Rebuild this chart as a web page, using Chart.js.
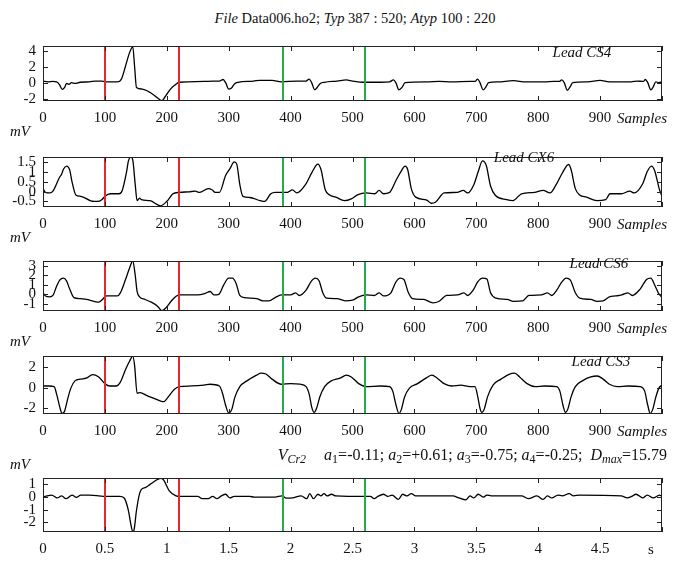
<!DOCTYPE html>
<html>
<head>
<meta charset="utf-8">
<script src="https://cdn.jsdelivr.net/npm/chart.js@4.4.1/dist/chart.umd.min.js"></script>
<style>
    body { margin: 0; background: #fff; }
    #wrap { position: relative; width: 673px; height: 561px; overflow: hidden; font-family: 'Liberation Serif', 'Times New Roman', serif; color: #111; }
    #wrap canvas { position: absolute; left: 0; }
    .txt { position: absolute; white-space: nowrap; font-size: 15px; line-height: 16px; transform: translate(-50%, -50%); }
    .txt.right { transform: translate(-100%, -50%); }
    .txt sub { font-size: 11px; line-height: 0; vertical-align: -3px; }
    .title { font-size: 14.5px; }
    .params { font-size: 16px; }
    .params sub { font-size: 12px; }
    .gap { display: inline-block; width: 18px; }
</style>
</head>
<body>
<div id="wrap">
    <canvas id="pCS4"></canvas>
    <canvas id="pCX6"></canvas>
    <canvas id="pCS6"></canvas>
    <canvas id="pCS3"></canvas>
    <canvas id="pVCr2"></canvas>

    <div class="txt title" style="left:355px; top:18px;"><i>File</i> Data006.ho2; <i>Typ</i> 387 : 520; <i>Atyp</i> 100 : 220</div>

    <div class="txt" style="left:582px; top:52px;"><i>Lead CS4</i></div>
    <div class="txt" style="left:524px; top:157px;"><i>Lead CX6</i></div>
    <div class="txt" style="left:599px; top:263px;"><i>Lead CS6</i></div>
    <div class="txt" style="left:601px; top:361px;"><i>Lead CS3</i></div>

    <div class="txt" style="left:20px; top:131px;"><i>mV</i></div>
    <div class="txt" style="left:20px; top:237px;"><i>mV</i></div>
    <div class="txt" style="left:20px; top:341px;"><i>mV</i></div>
    <div class="txt" style="left:20px; top:464px;"><i>mV</i></div>

    <div class="txt right" style="left:667px; top:118px;"><i>Samples</i></div>
    <div class="txt right" style="left:667px; top:224px;"><i>Samples</i></div>
    <div class="txt right" style="left:667px; top:328px;"><i>Samples</i></div>
    <div class="txt right" style="left:667px; top:431px;"><i>Samples</i></div>
    <div class="txt" style="left:651px; top:549px;">s</div>

    <div class="txt right params" style="left:667px; top:455px;"><i>V</i><sub><i>Cr2</i></sub><span class="gap"></span><i>a</i><sub>1</sub>=-0.11; <i>a</i><sub>2</sub>=+0.61; <i>a</i><sub>3</sub>=-0.75; <i>a</i><sub>4</sub>=-0.25;&nbsp; <i>D</i><sub><i>max</i></sub>=15.79</div>
</div>

<script>
// ---- data (sample index -> mV) ----

const sampleTicks = [0, 100, 200, 300, 400, 500, 600, 700, 800, 900, 1000];
const samplesPerSecond = 200;
const atypBounds = [100, 220];
const typBounds = [387, 520];

// Lead CS4
const cs4Samples = [0, 8, 16, 22, 27, 31, 35, 38, 42, 46,
    52, 60, 75, 85, 95, 100, 120, 127, 133, 140,
    145, 148, 151, 160, 170, 180, 188, 192, 197, 205,
    213, 220, 235, 260, 275, 285, 291, 295, 300, 304,
    310, 315, 340, 350, 370, 385, 410, 425, 430, 434,
    439, 443, 448, 455, 475, 490, 500, 520, 545, 560,
    566, 570, 575, 580, 585, 620, 640, 660, 690, 698,
    702, 706, 711, 715, 720, 735, 760, 780, 810, 825,
    834, 838, 842, 847, 851, 856, 880, 900, 915, 950,
    960, 970, 973, 977, 982, 986, 990, 995, 1000];
const cs4Values = [0.2, 0.1, 0.15, 0.1, -0.3, -0.85, -0.6, -0.1, -0.2, 0.0,
    -0.1, 0.05, 0.1, 0.2, 0.2, 0.1, 0.1, 0.5, 2.0, 3.8,
    4.5, 2.0, -0.6, -0.8, -1.1, -1.6, -2.1, -2.25, -1.8, -0.9,
    -0.3, 0.05, 0.1, 0.15, 0.2, 0.2, 0.4, 0.0, -0.8, -0.7,
    -0.1, 0.05, 0.2, 0.3, 0.3, 0.1, 0.2, 0.2, 0.45, 0.0,
    -0.9, -0.6, -0.1, 0.05, 0.2, 0.35, 0.2, 0.05, 0.05, 0.1,
    0.35, 0.0, -0.9, -0.6, 0.0, 0.1, 0.15, 0.1, 0.15, 0.15,
    0.45, 0.0, -0.9, -0.6, 0.0, 0.1, 0.25, 0.1, 0.1, 0.15,
    0.15, 0.35, 0.0, -0.95, -0.6, 0.0, 0.1, 0.3, 0.1, 0.1,
    0.2, 0.15, 0.4, 0.0, -0.9, -0.5, 0.1, 0.0, 0.1];
const cs4Ticks = [-2, 0, 2, 4];

// Lead CX6
const cx6Samples = [0, 4, 11, 16, 27, 30, 33, 38, 43, 47,
    53, 61, 82, 88, 95, 100, 109, 123, 128, 135,
    138, 142, 145, 149, 152, 156, 159, 173, 190, 201,
    210, 220, 236, 246, 253, 267, 273, 278, 285, 295,
    302, 309, 313, 318, 323, 334, 351, 358, 368, 375,
    395, 403, 410, 424, 435, 444, 449, 456, 463, 473,
    487, 498, 508, 522, 536, 543, 550, 560, 571, 578,
    585, 589, 595, 602, 620, 627, 634, 648, 669, 679,
    686, 696, 703, 710, 716, 723, 731, 749, 759, 773,
    794, 808, 819, 829, 839, 849, 853, 860, 867, 878,
    895, 909, 916, 934, 948, 955, 969, 976, 983, 988,
    996, 1000];
const cx6Values = [0.15, -0.04, -0.07, 0.02, 0.74, 0.87, 1.13, 1.29, 1.11, 0.48,
    -0.17, -0.24, -0.5, -0.5, -0.41, -0.24, -0.11, -0.11, 0.06, 1.0,
    1.55, 1.74, 1.6, 0.35, -0.46, -0.33, -0.41, -0.46, -0.72, -0.46,
    -0.11, -0.04, -0.01, 0.02, -0.04, 0.15, 0.09, -0.04, -0.04, 0.81,
    1.16, 1.5, 1.39, 0.35, -0.24, -0.3, -0.46, -0.5, -0.11, -0.04,
    -0.04, 0.09, -0.07, 0.35, 1.0, 1.39, 1.13, 0.09, -0.17, -0.28,
    -0.46, -0.37, -0.17, -0.07, -0.11, 0.06, -0.11, -0.04, 0.61, 1.0,
    1.29, 1.13, 0.15, -0.28, -0.43, -0.59, -0.54, -0.07, -0.04, 0.06,
    -0.07, 0.35, 1.0, 1.55, 1.33, 0.28, -0.2, -0.41, -0.46, -0.11,
    -0.04, 0.06, -0.07, 0.35, 0.94, 1.37, 1.13, 0.15, -0.17, -0.28,
    -0.46, -0.41, -0.11, -0.11, 0.02, -0.07, 0.41, 1.0, 1.29, 1.07,
    0.09, -0.24];
const cx6Ticks = [-0.5, 0, 0.5, 1, 1.5];

// Lead CS6
const cs6Samples = [0, 4, 11, 16, 22, 27, 33, 38, 43, 50,
    60, 70, 82, 90, 96, 100, 103, 120, 125, 133,
    140, 145, 149, 152, 156, 165, 175, 185, 192, 198,
    207, 215, 222, 250, 262, 270, 276, 284, 292, 300,
    306, 312, 318, 325, 345, 355, 365, 375, 385, 400,
    408, 414, 425, 433, 440, 446, 452, 458, 475, 488,
    500, 510, 522, 535, 543, 550, 562, 570, 577, 583,
    590, 597, 615, 630, 640, 652, 670, 680, 686, 695,
    702, 710, 717, 723, 732, 750, 760, 775, 785, 805,
    815, 822, 830, 838, 845, 852, 860, 867, 885, 895,
    905, 915, 925, 935, 945, 952, 965, 975, 982, 988,
    994, 1000];
const cs6Values = [0.16, -0.17, -0.26, -0.12, 0.86, 1.5, 1.7, 1.42, 0.58, -0.34,
    -0.45, -0.54, -0.73, -0.82, -0.54, -0.26, -0.17, -0.17, 0.16, 1.5,
    2.8, 3.5, 2.0, 0.3, -0.26, -0.54, -0.82, -1.24, -1.72, -1.46,
    -0.73, -0.2, -0.06, -0.06, 0.1, 0.3, -0.06, 0.0, 1.0, 1.7,
    1.7, 1.14, -0.12, -0.34, -0.45, -0.68, -0.68, -0.34, -0.06, -0.06,
    0.16, -0.12, 0.44, 1.34, 1.7, 1.42, 0.16, -0.4, -0.45, -0.68,
    -0.62, -0.26, -0.06, -0.12, 0.16, -0.17, 0.16, 1.28, 1.7, 1.56,
    0.22, -0.45, -0.54, -0.9, -0.73, -0.12, -0.06, 0.16, -0.12, 0.44,
    1.28, 1.7, 1.62, 0.16, -0.4, -0.54, -0.73, -0.68, -0.12, -0.06,
    0.16, -0.12, 0.44, 1.28, 1.7, 1.5, 0.16, -0.4, -0.54, -0.73,
    -0.68, -0.26, -0.17, -0.06, 0.16, -0.12, 0.58, 1.56, 1.7, 1.0,
    0.16, -0.34];
const cs6Ticks = [-1, 0, 1, 2, 3];

// Lead CS3
const cs3Samples = [0, 10, 18, 22, 27, 31, 35, 40, 45, 52,
    60, 70, 80, 90, 100, 108, 118, 125, 133, 140,
    145, 148, 152, 157, 168, 180, 190, 195, 202, 212,
    220, 240, 260, 270, 285, 290, 295, 300, 305, 310,
    318, 330, 345, 352, 360, 370, 385, 400, 415, 425,
    430, 434, 438, 442, 447, 455, 465, 480, 490, 498,
    510, 522, 545, 560, 565, 570, 575, 579, 584, 592,
    605, 620, 628, 637, 648, 660, 675, 690, 698, 702,
    706, 709, 713, 718, 727, 740, 752, 762, 770, 782,
    795, 810, 830, 835, 840, 844, 848, 853, 860, 872,
    885, 895, 905, 915, 928, 945, 965, 972, 977, 981,
    985, 990, 995, 1000];
const cs3Values = [0.18, 0.18, 0.12, -0.61, -1.85, -2.5, -2.25, -1.05, -0.03, 0.7,
    0.85, 0.94, 1.29, 1.06, 0.41, 0.18, 0.18, 0.56, 1.73, 2.61,
    3.08, 2.17, -0.53, -0.47, -0.76, -1.05, -1.29, -1.35, -0.91, -0.17,
    0.12, 0.18, 0.26, 0.35, 0.18, -0.53, -1.7, -2.45, -2.1, -0.91,
    0.12, 0.7, 1.23, 1.43, 1.35, 0.85, 0.35, 0.41, 0.35, 0.12,
    -0.61, -1.85, -2.4, -2.0, -0.91, 0.12, 0.65, 0.94, 1.23, 1.06,
    0.41, 0.12, 0.18, 0.12, -0.32, -1.6, -2.5, -2.1, -0.91, -0.03,
    0.41, 0.99, 1.23, 0.94, 0.41, 0.18, 0.26, 0.12, 0.12, -0.76,
    -2.0, -2.4, -2.05, -0.91, 0.26, 0.85, 1.29, 1.43, 1.06, 0.41,
    0.12, 0.18, 0.12, -0.32, -1.7, -2.4, -2.05, -0.91, 0.12, 0.7,
    1.06, 1.15, 0.85, 0.35, 0.12, 0.18, 0.12, -0.32, -1.7, -2.5,
    -2.1, -0.91, -0.03, 0.26];
const cs3Ticks = [-2, 0, 2];

// V_Cr2
const vcr2Samples = [0, 7, 14, 23, 30, 37, 47, 54, 61, 75,
    90, 100, 124, 131, 138, 142, 145, 147, 151, 156,
    159, 166, 173, 184, 191, 195, 204, 215, 220, 250,
    257, 267, 274, 281, 288, 295, 302, 309, 334, 341,
    375, 386, 393, 403, 417, 426, 431, 437, 444, 449,
    454, 459, 466, 473, 522, 529, 535, 541, 550, 557,
    564, 574, 581, 588, 595, 602, 662, 672, 683, 690,
    696, 703, 712, 717, 724, 773, 784, 798, 808, 815,
    822, 832, 839, 850, 857, 867, 934, 944, 951, 958,
    969, 976, 986, 996, 1000];
const vcr2Values = [0.0, 0.1, 0.15, -0.07, 0.09, -0.13, 0.15, -0.02, 0.15, 0.15,
    0.1, 0.05, 0.05, -0.07, -1.06, -2.17, -2.72, -2.6, -1.06, 0.27,
    0.6, 0.76, 1.0, 1.36, 1.48, 1.34, 0.49, 0.09, 0.05, 0.05,
    -0.13, -0.13, 0.05, -0.13, 0.09, 0.22, -0.07, 0.05, 0.05, 0.0,
    0.0, 0.09, -0.09, -0.07, 0.09, -0.13, 0.27, -0.13, 0.22, 0.09,
    0.27, 0.09, 0.22, 0.09, 0.05, 0.05, -0.13, 0.05, 0.22, 0.05,
    0.16, -0.18, 0.22, 0.09, 0.27, 0.09, 0.09, -0.07, -0.22, 0.09,
    -0.07, 0.22, 0.0, 0.16, 0.09, 0.09, -0.13, 0.09, -0.18, 0.09,
    -0.07, 0.16, 0.09, 0.27, 0.09, 0.16, 0.09, -0.07, 0.05, 0.22,
    -0.07, 0.16, -0.07, 0.16, 0.05];
const vcr2Ticks = [-2, -1, 0, 1];

// ---- panel layout (pixels) ----
const PAD_TOP = 6;
const X_AXIS_H = 28;
const Y_AXIS_W = 43;
const PLOT_RIGHT = 662;

Chart.defaults.font.family = "'Liberation Serif', 'Times New Roman', serif";
Chart.defaults.font.size = 15;
Chart.defaults.color = '#111';

function toPoints(xs, ys) {
    return xs.map((x, i) => ({ x: x, y: ys[i] }));
}

// frame, inward ticks and the Typ / Atyp window lines
const framePlugin = {
    id: 'frameMarkers',
    afterDatasetsDraw(chart) {
        const { ctx, chartArea: a, scales } = chart;
        const x = scales.x, y = scales.y;
        ctx.save();

        const marker = (v, color) => {
            const px = Math.round(x.getPixelForValue(v));
            ctx.strokeStyle = color;
            ctx.lineWidth = 2;
            ctx.beginPath();
            ctx.moveTo(px, a.top);
            ctx.lineTo(px, a.bottom);
            ctx.stroke();
        };
        atypBounds.forEach(v => marker(v, '#e8262e'));
        typBounds.forEach(v => marker(v, '#1fae4c'));

        ctx.strokeStyle = '#222';
        ctx.lineWidth = 1;
        ctx.strokeRect(a.left + 0.5, a.top + 0.5, a.width - 1, a.height - 1);

        ctx.beginPath();
        x.ticks.forEach(t => {
            const px = Math.round(x.getPixelForValue(t.value)) + 0.5;
            ctx.moveTo(px, a.bottom); ctx.lineTo(px, a.bottom - 5);
            ctx.moveTo(px, a.top); ctx.lineTo(px, a.top + 5);
        });
        y.ticks.forEach(t => {
            const py = Math.round(y.getPixelForValue(t.value)) + 0.5;
            ctx.moveTo(a.left, py); ctx.lineTo(a.left + 5, py);
            ctx.moveTo(a.right, py); ctx.lineTo(a.right - 5, py);
        });
        ctx.stroke();
        ctx.restore();
    }
};

function createPanel(id, boxTop, boxBottom, xs, ys, yMin, yMax, yTicks, xLabel) {
    const canvas = document.getElementById(id);
    const h = (boxBottom - boxTop) + PAD_TOP + X_AXIS_H;
    canvas.width = 673;
    canvas.height = h;
    canvas.style.top = (boxTop - PAD_TOP) + 'px';

    new Chart(canvas, {
        type: 'line',
        data: {
            datasets: [{
                data: toPoints(xs, ys),
                borderColor: '#000',
                borderWidth: 1.3,
                pointRadius: 0,
                cubicInterpolationMode: 'monotone',
                fill: false
            }]
        },
        options: {
            responsive: false,
            animation: false,
            events: [],
            layout: { padding: { top: PAD_TOP, right: 673 - PLOT_RIGHT, left: 0, bottom: 0 } },
            plugins: { legend: { display: false }, tooltip: { enabled: false } },
            scales: {
                x: {
                    type: 'linear',
                    min: 0,
                    max: 1000,
                    grid: { display: false, drawTicks: false },
                    border: { display: false },
                    afterBuildTicks: s => { s.ticks = sampleTicks.map(v => ({ value: v })); },
                    afterFit: s => { s.height = X_AXIS_H; },
                    ticks: {
                        autoSkip: false,
                        maxRotation: 0,
                        padding: 8,
                        callback: xLabel
                    }
                },
                y: {
                    min: yMin,
                    max: yMax,
                    grid: { display: false, drawTicks: false },
                    border: { display: false },
                    afterBuildTicks: s => { s.ticks = yTicks.map(v => ({ value: v })); },
                    afterFit: s => { s.width = Y_AXIS_W; },
                    ticks: {
                        autoSkip: false,
                        padding: 7,
                        callback: v => String(v)
                    }
                }
            }
        },
        plugins: [framePlugin]
    });
}

const sampleLabel = v => (v === 1000 ? '' : String(v));
const secondLabel = v => (v === 1000 ? '' : String(v / samplesPerSecond));

document.addEventListener('DOMContentLoaded', () => {
    createPanel('pCS4', 36, 101, cs4Samples, cs4Values, -2.3, 4.6, cs4Ticks, sampleLabel);
    createPanel('pCX6', 147, 207, cx6Samples, cx6Values, -0.78, 1.75, cx6Ticks, sampleLabel);
    createPanel('pCS6', 251, 311, cs6Samples, cs6Values, -1.75, 3.5, cs6Ticks, sampleLabel);
    createPanel('pCS3', 346, 414, cs3Samples, cs3Values, -2.55, 3.1, cs3Ticks, sampleLabel);
    createPanel('pVCr2', 468, 532, vcr2Samples, vcr2Values, -2.75, 1.5, vcr2Ticks, secondLabel);
});
</script>
</body>
</html>
